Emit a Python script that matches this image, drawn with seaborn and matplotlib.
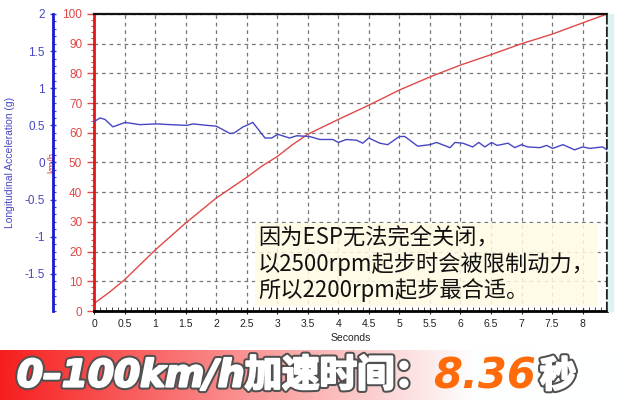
import numpy as np
import matplotlib
matplotlib.use('Agg')
import matplotlib.pyplot as plt
import matplotlib.patheffects as pe
from matplotlib.ticker import MultipleLocator, FuncFormatter
import seaborn as sns

# speed trace (km/h vs seconds)
speed_t = [0, 0.25, 0.5, 1, 1.5, 2, 2.5, 2.75, 3, 3.25, 3.5, 4, 4.5, 5,
           5.5, 6, 6.5, 7, 7.5, 8, 8.4]
speed_v = [2.5, 6.3, 10.5, 20.5, 29.6, 38, 45, 48.8, 52, 56, 59.5, 64.5, 69.3,
           74.4, 78.8, 82.8, 86.3, 90, 93.2, 97, 100]

# longitudinal acceleration (g vs seconds)
acc_t = [0, 0.1, 0.18, 0.31, 0.51, 0.75, 1.03, 1.24, 1.52, 1.62, 1.85, 2.0,
         2.23, 2.3, 2.44, 2.5, 2.6, 2.8, 2.91, 3.01, 3.2, 3.32, 3.53, 3.7,
         3.91, 4.0, 4.13, 4.3, 4.4, 4.5, 4.68, 4.81, 5.0, 5.09, 5.3, 5.5,
         5.61, 5.83, 5.91, 6.04, 6.2, 6.3, 6.4, 6.51, 6.6, 6.78, 6.89, 7.0,
         7.1, 7.3, 7.41, 7.51, 7.68, 7.87, 8.0, 8.12, 8.33, 8.4]
acc_g = [0.55, 0.60, 0.58, 0.48, 0.54, 0.51, 0.52, 0.51, 0.50, 0.52, 0.50,
         0.49, 0.39, 0.40, 0.48, 0.50, 0.54, 0.33, 0.33, 0.38, 0.33, 0.36,
         0.35, 0.31, 0.31, 0.27, 0.31, 0.30, 0.26, 0.33, 0.26, 0.24, 0.35,
         0.35, 0.22, 0.24, 0.27, 0.20, 0.27, 0.26, 0.21, 0.27, 0.21, 0.27,
         0.23, 0.26, 0.20, 0.24, 0.21, 0.20, 0.23, 0.19, 0.24, 0.17, 0.21,
         0.19, 0.21, 0.17]

note_lines = ['因为ESP无法完全关闭，', '以2500rpm起步时会被限制动力，', '所以2200rpm起步最合适。']
banner_main = '0–100km/h加速时间：'
banner_value = '8.36'
banner_unit = '秒'

sns.set_style('white')
plt.rcParams['font.family'] = ['Liberation Sans', 'Noto Sans CJK SC', 'DejaVu Sans']

RED = '#e04848'
BLUE = '#4646c4'
W, H = 620, 400

fig = plt.figure(figsize=(6.2, 4), dpi=100)
ax = fig.add_axes([94 / W, 1 - 311 / H, 513 / W, 297 / H])
ax2 = ax.twinx()

sns.lineplot(x=speed_t, y=speed_v, ax=ax, color=RED, lw=1.0)
sns.lineplot(x=acc_t, y=acc_g, ax=ax2, color=BLUE, lw=1.0)

ax.set_xlim(0, 8.4)
ax.set_ylim(0, 100)
ax2.set_ylim(-2, 2)

fmt = FuncFormatter(lambda v, p: f'{v:g}')
ax.xaxis.set_major_locator(MultipleLocator(0.5))
ax.xaxis.set_minor_locator(MultipleLocator(0.1))
ax.xaxis.set_major_formatter(fmt)
ax.yaxis.set_major_locator(MultipleLocator(10))
ax.yaxis.set_minor_locator(MultipleLocator(2))
ax2.set_yticks([-1.5, -1, -0.5, 0, 0.5, 1, 1.5, 2])
ax2.yaxis.set_minor_locator(MultipleLocator(0.1))
ax2.yaxis.set_major_formatter(fmt)

ax.grid(True, which='major', color='#777777', lw=0.9, ls=(0, (3, 3)))
ax.set_axisbelow(True)

# speed axis (red, left)
ax.tick_params(axis='y', which='major', colors=RED, labelsize=8.5, length=5, width=1, direction='out', left=True)
ax.tick_params(axis='y', which='minor', colors=RED, length=2.5, width=0.8, direction='out', left=True)
ax.tick_params(axis='x', which='major', colors='#222222', labelsize=7.5, length=4, direction='inout', bottom=True)
ax.tick_params(axis='x', which='minor', colors='#222222', length=3, direction='in', bottom=True)
ax.set_ylabel('km/h', color=RED, fontsize=7)
ax.yaxis.set_label_coords(-0.072, 0.5)
ax.set_xlabel('Seconds', color='#222222', fontsize=7.5, labelpad=3)

for s in ['left', 'right', 'top', 'bottom']:
    ax.spines[s].set_visible(True)
ax.spines['left'].set_color('#e01818')
ax.spines['left'].set_linewidth(2)
ax.spines['bottom'].set_color('black')
ax.spines['bottom'].set_linewidth(2)
ax.spines['top'].set_color('#111111')
ax.spines['top'].set_linewidth(1.6)
ax.spines['right'].set_color('#222222')
ax.spines['right'].set_linewidth(1.5)
ax.spines['right'].set_linestyle((0, (4, 2)))

# acceleration axis (blue, offset left)
ax2.yaxis.set_ticks_position('left')
ax2.yaxis.set_label_position('left')
ax2.spines['left'].set_position(('axes', -0.08))
ax2.spines['left'].set_visible(True)
ax2.spines['left'].set_color('#1c1ccc')
ax2.spines['left'].set_linewidth(2)
for s in ['right', 'top', 'bottom']:
    ax2.spines[s].set_visible(False)
ax2.tick_params(axis='y', which='major', colors=BLUE, labelsize=8.5, length=5, width=1, direction='inout')
ax2.tick_params(axis='y', which='minor', colors=BLUE, length=2.5, width=0.8, direction='in')
ax2.set_ylabel('Longitudinal Acceleration (g)', color=BLUE, fontsize=7.5)
ax2.yaxis.set_label_coords(-0.154, 0.5)

# light strip to the right of the plot
fig.patches.append(plt.Rectangle((608 / W, 1 - 311 / H), 5 / W, 297 / H,
                                 transform=fig.transFigure, color='#dff2f2', zorder=0))

# note box
ax2.text((258 - 94) / 513, (311 - 226) / 297, '\n'.join(note_lines),
         transform=ax2.transAxes, ha='left', va='top', fontsize=16,
         family=['Noto Sans CJK SC', 'DejaVu Sans'], color='#111111',
         linespacing=1.15, zorder=10,
         bbox=dict(boxstyle='square,pad=0.15', facecolor='#fffbe2', edgecolor='none', alpha=0.85))

# banner
bax = fig.add_axes([0, 0, 1, 50 / H])
grad = np.linspace(0, 1, 256)
gb = np.clip(0.12 + grad * 1.15, 0, 1)
img = np.dstack([0.97 + 0.03 * grad, gb, gb])
bax.imshow(img, aspect='auto', extent=[0, 1, 0, 1])
bax.set_xlim(0, 1)
bax.set_ylim(0, 1)
bax.axis('off')

outline = [pe.Stroke(linewidth=4.5, foreground='#505050'),
           pe.Stroke(linewidth=1.6, foreground='white'), pe.Normal()]
bax.text(17 / W, 0.47, banner_main, ha='left', va='center', fontsize=27,
         fontweight='black', style='italic', color='white',
         family=['DejaVu Sans', 'Noto Sans CJK SC'], path_effects=outline)
bax.text(433 / W, 0.47, banner_value, ha='left', va='center', fontsize=30,
         fontweight='bold', style='italic', color='#ff6a0a',
         family=['DejaVu Sans'])
bax.text(540 / W, 0.47, banner_unit, ha='left', va='center', fontsize=26,
         fontweight='black', color='white',
         family=['Noto Sans CJK SC', 'DejaVu Sans'], path_effects=outline)

fig.savefig('out.png', dpi=100)
